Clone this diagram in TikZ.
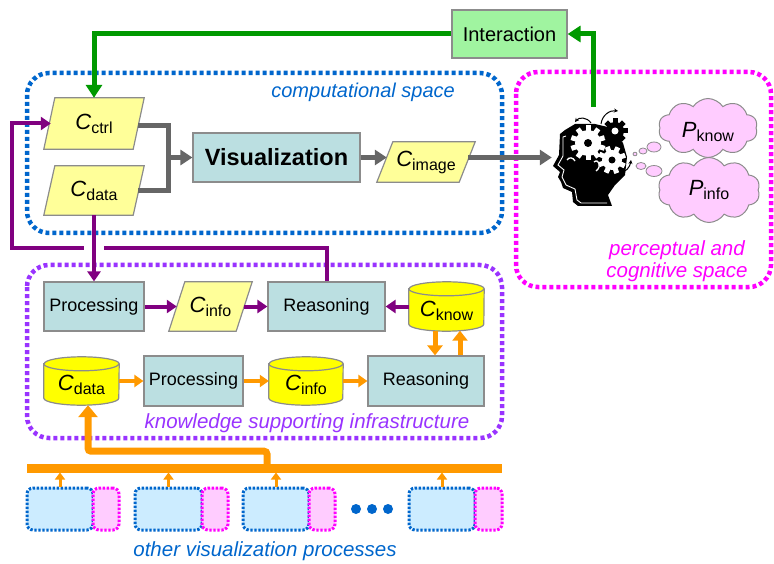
\documentclass[tikz,border=0pt]{standalone}
\usepackage{fontspec}
\setmainfont{Liberation Sans}
\usetikzlibrary{arrows.meta,calc,shapes.symbols}
\pgfdeclarelayer{background}
\pgfsetlayers{background,main}

\definecolor{cblue}{HTML}{0066CC}
\definecolor{cmag}{HTML}{FF00FF}
\definecolor{cpurp}{HTML}{9933FF}
\definecolor{cplum}{HTML}{800080}
\definecolor{corange}{HTML}{FF9900}
\definecolor{cgreen}{HTML}{009900}
\definecolor{cgrayline}{HTML}{666666}
\definecolor{cteal}{HTML}{BBDFE1}
\definecolor{cpaleyel}{HTML}{FFFF99}
\definecolor{cyel}{HTML}{FFFF00}
\definecolor{cpalegreen}{HTML}{A0F4A0}
\definecolor{cpink}{HTML}{FFCCFF}
\definecolor{clightblue}{HTML}{CCECFF}
\definecolor{cborder}{HTML}{8C8C8C}

\newcommand\cv[2]{{\fontsize{22}{22}\selectfont\itshape #1}\raisebox{-4pt}{\fontsize{16}{16}\selectfont #2}}
\newcommand\cvlow[2]{\raisebox{-4pt}[\height][\depth]{\cv{#1}{#2}}}

\newcommand\drawpara[2]{\path[paraline] ($(#1.north west)+(#2,0)$) -- (#1.north east) -- ($(#1.south east)+(-#2,0)$) -- (#1.south west) -- cycle;}
\newcommand\drawcyl[2]{%
 \path[cylline] ($(#1.north west)+(0,7)$) -- ($(#1.south west)+(0,-7)$) arc[start angle=180,end angle=360,x radius=#2pt,y radius=7pt] -- ($(#1.north east)+(0,7)$) arc[start angle=0,end angle=180,x radius=#2pt,y radius=7pt] -- cycle;
 \draw[draw=cborder,line width=1.2pt] ($(#1.north west)+(0,7)$) arc[start angle=180,end angle=360,x radius=#2pt,y radius=7pt];}
\newcommand\gearat[7]{\begin{scope}[shift={#1}]
 \fill[#4] (0,0) circle (#2pt);
 \foreach \a in {#7} {\fill[#4, rotate=\a] (-2.5pt,0pt) rectangle (2.5pt,#3pt);}
 \fill[#5] (0,0) circle (#6pt);
\end{scope}}

\tikzset{
 procbox/.style={draw=cborder, line width=1.2pt, fill=cteal, minimum height=49pt, inner sep=0pt, font=\fontsize{18}{18}\selectfont},
 slot/.style={inner sep=0pt},
 paraline/.style={draw=cborder, line width=1.2pt, fill=cpaleyel},
 cylline/.style={draw=cborder, line width=1.2pt, fill=cyel},
 spacebox/.style={line width=4.5pt, dash pattern=on 4pt off 3pt, rounded corners=22pt},
 thought/.style={cloud, cloud puffs=10, cloud puff arc=115, cloud ignores aspect, draw=cborder, line width=1pt, fill=cpink, inner sep=0pt},
 minibox/.style={line width=3pt, dash pattern=on 2.4pt off 1.6pt, rounded corners=6pt, inner sep=0pt, minimum height=42pt},
 grayarrow/.style={draw=cgrayline, line width=5pt, line join=miter, -{Triangle[length=12pt,width=15pt]}},
 grayline/.style={draw=cgrayline, line width=5pt, line join=miter},
 greenarrow/.style={draw=cgreen, line width=5pt, line join=miter, -{Triangle[length=13pt,width=16pt]}},
 plumarrow/.style={draw=cplum, line width=4pt, line join=miter, -{Triangle[length=10pt,width=13pt]}},
 orangearrow/.style={draw=corange, line width=4pt, -{Triangle[length=9pt,width=12pt]}},
 orangevert/.style={draw=corange, line width=5pt, -{Triangle[length=10pt,width=15pt]}},
 orangefeed/.style={draw=corange, line width=7pt, rounded corners=3pt, -{Triangle[length=12pt,width=19pt]}},
 smallorange/.style={draw=corange, line width=3pt, -{Triangle[length=7pt,width=10pt]}},
 spacelabel/.style={font=\fontsize{20.5}{22}\selectfont\itshape, inner sep=0pt},
}

\begin{document}
\begin{tikzpicture}[x=1pt,y=-1pt]
\useasboundingbox (0,0) rectangle (774,564);

% ---------- nodes ----------
\node[procbox, fill=cpalegreen, minimum width=115pt, minimum height=48pt, font=\fontsize{20}{20}\selectfont] (inter) at (509.5,34) {Interaction};
\node[slot, minimum width=100pt, minimum height=51pt] (cctrl) at (94,123.5) {\cv{C}{ctrl}};
\node[slot, minimum width=100pt, minimum height=49pt] (cdata) at (94,190.5) {\cv{C}{data}};
\node[procbox, minimum width=167pt, font=\fontsize{23.5}{23.5}\selectfont\bfseries] (vis) at (276.5,157.5) {Visualization};
\node[slot, minimum width=98pt, minimum height=40pt] (cimage) at (426,162) {\cv{C}{image}};
\node[slot, minimum width=76pt, minimum height=99pt] (head) at (590,156.5) {};
\node[thought, minimum width=99pt, minimum height=59pt] (pknow) at (708,128) {\cvlow{P}{know}};
\node[thought, minimum width=102pt, minimum height=65pt] (pinfo) at (709,190) {\cv{P}{info}};

\node[procbox, minimum width=100pt] (proc1) at (94,306.5) {Processing};
\node[slot, minimum width=83pt, minimum height=49pt] (cinfo1) at (210.5,306.5) {\cv{C}{info}};
\node[procbox, minimum width=117pt] (reas1) at (326.5,306.5) {Reasoning};
\node[slot, minimum width=75pt, minimum height=49pt] (cknow) at (446.5,306.5) {\cvlow{C}{know}};
\node[slot, minimum width=75pt, minimum height=48pt] (cdata2) at (81.5,381) {\cvlow{C}{data}};
\node[procbox, minimum width=99pt, minimum height=50pt] (proc2) at (193.5,381) {Processing};
\node[slot, minimum width=74pt, minimum height=48pt] (cinfo2) at (306,381) {\cvlow{C}{info}};
\node[procbox, minimum width=116pt, minimum height=50pt] (reas2) at (426,381) {Reasoning};

% other processes
\node[minibox, draw=cblue, fill=clightblue, minimum width=66pt] (b1) at (60,509) {};
\node[minibox, draw=cmag, fill=cpink, minimum width=26pt] (m1) at (106,509) {};
\node[minibox, draw=cblue, fill=clightblue, minimum width=67pt] (b2) at (168.5,509) {};
\node[minibox, draw=cmag, fill=cpink, minimum width=26pt] (m2) at (215,509) {};
\node[minibox, draw=cblue, fill=clightblue, minimum width=66pt] (b3) at (276,509) {};
\node[minibox, draw=cmag, fill=cpink, minimum width=26pt] (m3) at (322,509) {};
\node[minibox, draw=cblue, fill=clightblue, minimum width=66pt] (b4) at (442,509) {};
\node[minibox, draw=cmag, fill=cpink, minimum width=27pt] (m4) at (488.5,509) {};
\foreach \xx in {356,372,388} \fill[cblue] (\xx,509) circle (5pt);

% labels
\node[spacelabel, text=cblue, anchor=east, font=\fontsize{20}{20}\selectfont\itshape] (lcomp) at (455,92) {computational space};
\node[spacelabel, text=cmag, align=center] (lperc) at (677,261) {perceptual and\\cognitive space};
\node[spacelabel, text=cpurp] (lknow) at (307,423) {knowledge supporting infrastructure};
\node[spacelabel, text=cblue] (lother) at (265,551) {other visualization processes};

% ---------- background shapes ----------
\begin{pgfonlayer}{background}
\draw[spacebox, draw=cblue] (27,73) rectangle (502,233);
\draw[spacebox, draw=cmag] (516,72) rectangle (771,287);
\draw[spacebox, draw=cpurp] (27,265) rectangle (502,438);
\drawpara{cctrl}{11}
\drawpara{cdata}{11}
\drawpara{cimage}{16}
\drawpara{cinfo1}{16}
\drawcyl{cknow}{37.5}
\drawcyl{cdata2}{37.5}
\drawcyl{cinfo2}{37}
\end{pgfonlayer}

% ---------- head icon ----------
\fill[black] (565,130) -- (560,134) -- (559,155) -- (553,166) -- (560,172) -- (558,177) -- (561,182) -- (563,188) -- (572,192) -- (573,202) -- (578,206) -- (612,206) -- (608,195) -- (615,185) -- (625,175) -- (627,157) -- (623,143) -- (612,128) -- (595,124) -- (575,124) -- cycle;
\draw[white, line width=0.9pt] (566,136) -- (563,137) -- (563,156) -- (558,165) -- (564,170) -- (562,177) -- (566,185) -- (575,189) -- (577,200) -- (581,203) -- (607,203);
\gearat{(588,143)}{13}{17.5}{white}{black}{4}{0,36,...,324}
\gearat{(615,131)}{9}{12.5}{black}{white}{3.5}{0,45,...,315}
\gearat{(612,160)}{10}{14}{white}{black}{3.5}{20,65,...,335}
\draw[white, line width=1.3pt] (567,160) .. controls (569,157) and (573,157) .. (575,161);
\draw[white, line width=1.3pt] (594,162) .. controls (599,158) and (602,167) .. (596,171);
\draw[black, line width=1pt, -{Stealth[length=4pt,width=4pt]}] (591,123) .. controls (587,117) and (579,117) .. (575,122);
\draw[black, line width=1pt, -{Stealth[length=4pt,width=4pt]}] (601,124) .. controls (602,115) and (610,110) .. (618,111);
\draw[black, line width=1pt, -{Stealth[length=4pt,width=4pt]}] (620,173) .. controls (626,172) and (630,167) .. (631,160);
\foreach \xx/\yy/\rx/\ry in {635/154/2pt/1.8pt, 643/151/4pt/3pt, 654/147/7pt/5pt, 641/166/5pt/3.5pt, 654/171/8pt/5.5pt}
  \draw[fill=cpink, draw=cborder, line width=0.8pt] (\xx,\yy) ellipse [x radius=\rx, y radius=\ry];

% ---------- connectors ----------
\coordinate (j) at (168,157.5);
\draw[grayline] ($(cctrl.east)+(-6,2)$) -| (j) |- ($(cdata.east)+(-6,0)$);
\draw[grayarrow] (j) -- (vis.west);
\draw[grayarrow] (vis.east) -- ($(vis.east -| cimage.west)+(10,0)$);
\draw[grayarrow] ($(cimage.east |- vis.east)+(-7,0)$) -- (head.west |- vis.east);

\draw[greenarrow] ($(head.north)+(3,0)$) |- (inter.east);
\draw[greenarrow] (inter.west) -| (cctrl.north);

\coordinate (pl) at (12,248);
\draw[plumarrow] (reas1.north) |- (pl) |- ($(cctrl.west)+(7,0)$);
\draw[white, line width=6pt] ($(cdata.south |- pl)+(-10,0)$) -- ($(cdata.south |- pl)+(10,0)$);
\draw[plumarrow] (cdata.south) -- (proc1.north);
\draw[plumarrow] (proc1.east) -- ($(cinfo1.west)+(8,0)$);
\draw[plumarrow] ($(cinfo1.east)+(-8,0)$) -- (reas1.west);
\draw[plumarrow] (cknow.west) -- (reas1.east);

\draw[orangearrow] (cdata2.east) -- (proc2.west);
\draw[orangearrow] (proc2.east) -- (cinfo2.west);
\draw[orangearrow] (cinfo2.east) -- (reas2.west);
\draw[orangevert] ($(cknow.south)+(-11.5,0)$) -- ($(reas2.north)+(9,0)$);
\draw[orangevert] ($(reas2.north)+(34,0)$) -- ($(cknow.south)+(13.5,-0.5)$);

\coordinate (busL) at (27,468);
\coordinate (busR) at (502,468);
\coordinate (feed) at (267,468);
\coordinate (busbot) at (0,472.5);
\draw[draw=corange, line width=9pt] (busL) -- (busR);
\draw[orangefeed] (feed) |- ($(cdata2.south)+(6.5,46)$) -- ($(cdata2.south)+(6.5,0)$);
\foreach \b in {b1,b2,b3,b4} \draw[smallorange] (\b.north) -- (\b.north |- busbot);
\end{tikzpicture}
\end{document}
